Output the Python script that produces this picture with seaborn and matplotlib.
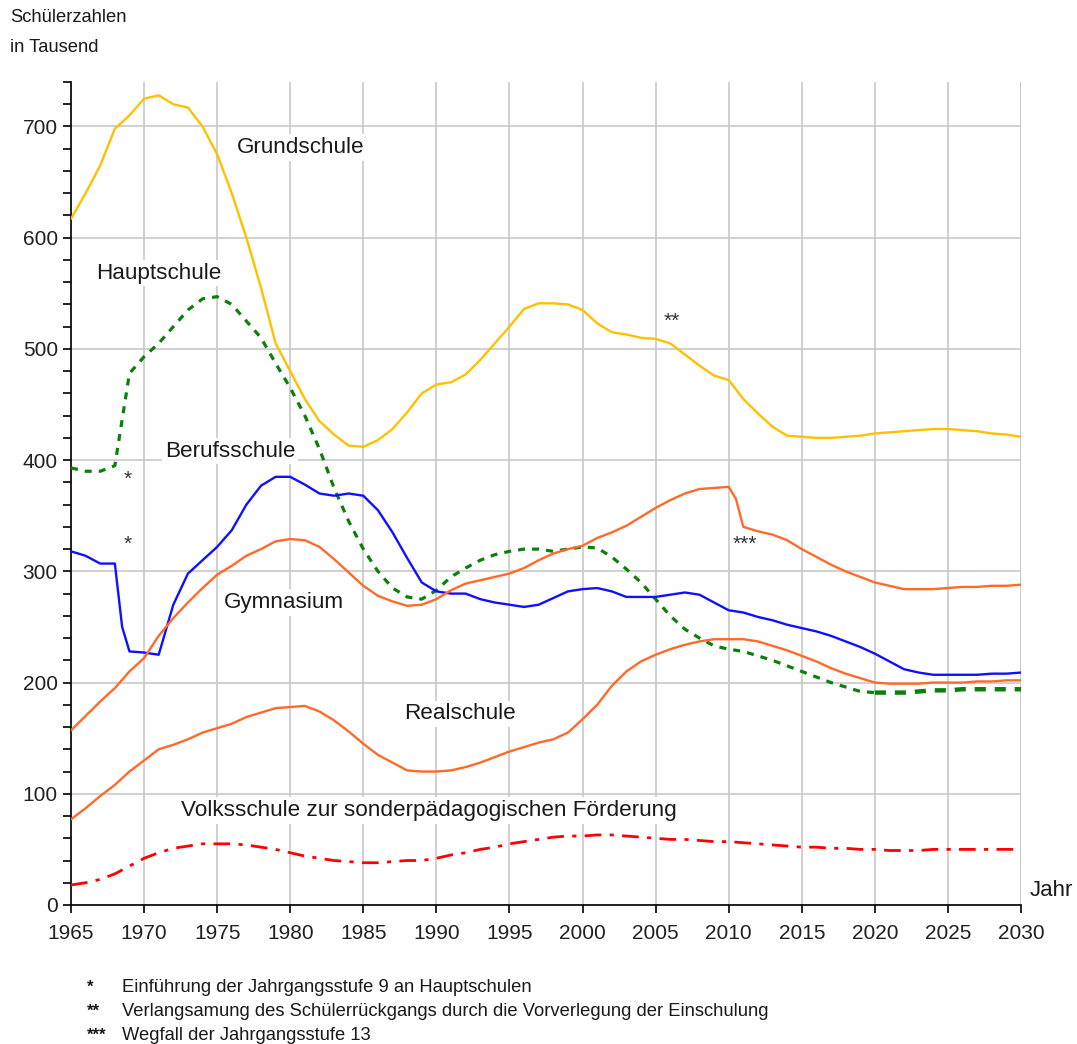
import matplotlib
matplotlib.use("Agg")
import matplotlib.pyplot as plt
import seaborn as sns
import numpy as np
from matplotlib.ticker import MultipleLocator

years = list(range(1965, 2031))

grund = [617, 640, 665, 698, 710, 725, 728, 720, 717, 700, 675, 640, 600, 555, 505, 480,
         455, 435, 423, 413, 412, 418, 428, 443, 460, 468, 470, 477, 490, 505, 520, 536,
         541, 541, 540, 535, 523, 515, 513, 510, 509, 505, 495, 485, 476, 472, 455, 442,
         430, 422, 421, 420, 420, 421, 422, 424, 425, 426, 427, 428, 428, 427, 426, 424,
         423, 421]

haupt = [393, 390, 390, 395, 478, 493, 505, 520, 535, 545, 547, 540, 525, 510, 487, 465,
         440, 410, 375, 345, 320, 300, 285, 277, 275, 283, 295, 303, 310, 315, 318, 320,
         320, 318, 320, 322, 321, 313, 302, 290, 275, 260, 248, 240, 233, 230, 228, 224,
         220, 215, 210, 205, 200, 196, 192, 191, 191, 191, 192, 193, 193, 194, 194, 194,
         194, 194]

beruf_years = [1965, 1966, 1967, 1968, 1968.5] + list(range(1969, 2031))
beruf = [318, 314, 307, 307, 250, 228, 227, 225, 270, 298, 310, 322, 337, 360, 377, 385,
         385, 378, 370, 368, 370, 368, 355, 335, 312, 290, 282, 280, 280, 275, 272, 270,
         268, 270, 276, 282, 284, 285, 282, 277, 277, 277, 279, 281, 279, 272, 265, 263,
         259, 256, 252, 249, 246, 242, 237, 232, 226, 219, 212, 209, 207, 207, 207, 207,
         208, 208, 209]

gym_years = list(range(1965, 2011)) + [2010.5] + list(range(2011, 2031))
gym = [157, 170, 183, 195, 210, 222, 242, 258, 272, 285, 297, 305, 314, 320, 327, 329,
       328, 322, 311, 299, 287, 278, 273, 269, 270, 275, 283, 289, 292, 295, 298, 303,
       310, 316, 320, 323, 330, 335, 341, 349, 357, 364, 370, 374, 375, 376, 365, 340,
       336, 333, 328, 320, 313, 306, 300, 295, 290, 287, 284, 284, 284, 285, 286, 286,
       287, 287, 288]

real = [77, 87, 98, 108, 120, 130, 140, 144, 149, 155, 159, 163, 169, 173, 177, 178,
        179, 174, 166, 156, 145, 135, 128, 121, 120, 120, 121, 124, 128, 133, 138, 142,
        146, 149, 155, 167, 180, 197, 210, 219, 225, 230, 234, 237, 239, 239, 239, 237,
        233, 229, 224, 219, 213, 208, 204, 200, 199, 199, 199, 200, 200, 200, 201, 201,
        202, 202]

volks = [18, 20, 23, 28, 35, 42, 47, 51, 53, 55, 55, 55, 54, 52, 50, 47,
         44, 42, 40, 39, 38, 38, 39, 40, 40, 42, 45, 47, 50, 52, 55, 57,
         59, 61, 62, 62, 63, 63, 62, 61, 60, 59, 59, 58, 57, 57, 56, 55,
         54, 53, 52, 52, 51, 51, 50, 50, 49, 49, 49, 50, 50, 50, 50, 50,
         50, 50]

labels = ["Grundschule", "Hauptschule", "Berufsschule", "Gymnasium", "Realschule",
          "Volksschule zur sonderpädagogischen Förderung"]
footnotes = ["Einführung der Jahrgangsstufe 9 an Hauptschulen",
             "Verlangsamung des Schülerrückgangs durch die Vorverlegung der Einschulung",
             "Wegfall der Jahrgangsstufe 13"]

sns.set_style("white")
plt.rcParams['font.family'] = ['Liberation Sans', 'DejaVu Sans']
plt.rcParams['lines.solid_joinstyle'] = 'round'
plt.rcParams['lines.solid_capstyle'] = 'round'

fig = plt.figure(figsize=(10.77, 10.44), dpi=100)
ax = fig.add_axes([71/1077, 1 - 905/1044, 950/1077, (905 - 82)/1044])

YEL = "#FFC000"
GRN = "#0A800A"
BLU = "#1010FF"
ORA = "#FF6A2A"
RED = "#FF0000"

sns.lineplot(x=years, y=grund, ax=ax, color=YEL, lw=1.7, zorder=3)
sns.lineplot(x=years[:56], y=haupt[:56], ax=ax, color=GRN, lw=2.3, zorder=3,
             linestyle=(0, (2.2, 2.2)))
sns.lineplot(x=years[55:], y=haupt[55:], ax=ax, color=GRN, lw=3.2, zorder=3,
             linestyle=(0, (2.5, 2.0)))
sns.lineplot(x=beruf_years, y=beruf, ax=ax, color=BLU, lw=1.7, zorder=3)
sns.lineplot(x=gym_years, y=gym, ax=ax, color=ORA, lw=1.7, zorder=3)
sns.lineplot(x=years, y=real, ax=ax, color=ORA, lw=1.7, zorder=3)
sns.lineplot(x=years, y=volks, ax=ax, color=RED, lw=2.0, zorder=3,
             linestyle=(0, (6, 3, 1.5, 3)))

ax.set_xlim(1965, 2030)
ax.set_ylim(0, 740)
ax.xaxis.set_major_locator(MultipleLocator(5))
ax.yaxis.set_major_locator(MultipleLocator(100))
ax.yaxis.set_minor_locator(MultipleLocator(20))
ax.grid(True, which='major', color='#C8C8C8', lw=1.2, zorder=0)
ax.set_axisbelow(True)
ax.axvline(2030, color='#C8C8C8', lw=1.2, zorder=0)
for s in ['top', 'right']:
    ax.spines[s].set_visible(False)
for s in ['left', 'bottom']:
    ax.spines[s].set_color('black')
    ax.spines[s].set_linewidth(1.2)
ax.tick_params(axis='both', which='major', direction='out', length=6, width=1.2,
               colors='black', labelsize=15, left=True, bottom=True)
ax.tick_params(axis='y', which='minor', direction='out', length=6, width=1.2,
               colors='black', left=True)
ax.tick_params(axis='x', which='major', pad=8)
ax.set_xlabel("")
ax.set_ylabel("")
for lab in ax.get_yticklabels() + ax.get_xticklabels():
    lab.set_color('#202020')

box = dict(facecolor='white', edgecolor='none', pad=2)
tk = dict(fontsize=16.2, ha='center', va='center', color='#1a1a1a', bbox=box, zorder=4)
ax.text(1980.7, 681, labels[0], **tk)
ax.text(1971.0, 568, labels[1], **tk)
ax.text(1975.9, 408, labels[2], **tk)
ax.text(1979.6, 272, labels[3], **tk)
ax.text(1991.6, 172, labels[4], **tk)
ax.text(1989.5, 85, labels[5], **tk)

sk = dict(fontsize=15, ha='center', va='center', color='#333333', zorder=4)
ax.text(1968.9, 383, "*", **sk)
ax.text(1968.9, 324, "*", **sk)
ax.text(2006.1, 525, "**", **sk)
ax.text(2011.1, 324, "***", **sk)

fig.text(10/1077, 1 - 18/1044, "Schülerzahlen", fontsize=13.2,
         ha='left', va='center', color='#1a1a1a')
fig.text(10/1077, 1 - 47/1044, "in Tausend", fontsize=13.2,
         ha='left', va='center', color='#1a1a1a')
fig.text(1030/1077, 1 - 890/1044, "Jahr", fontsize=16, ha='left', va='center',
         color='#1a1a1a')

stars = ["*", "**", "***"]
for i, (st, fn) in enumerate(zip(stars, footnotes)):
    yy = 1 - (987 + 24 * i) / 1044
    fig.text(87/1077, yy, st, fontsize=12, ha='left', va='center', color='#1a1a1a',
             fontweight='bold')
    fig.text(122/1077, yy, fn, fontsize=13.2, ha='left', va='center', color='#1a1a1a')

fig.savefig("out.png", dpi=100, facecolor='white')
